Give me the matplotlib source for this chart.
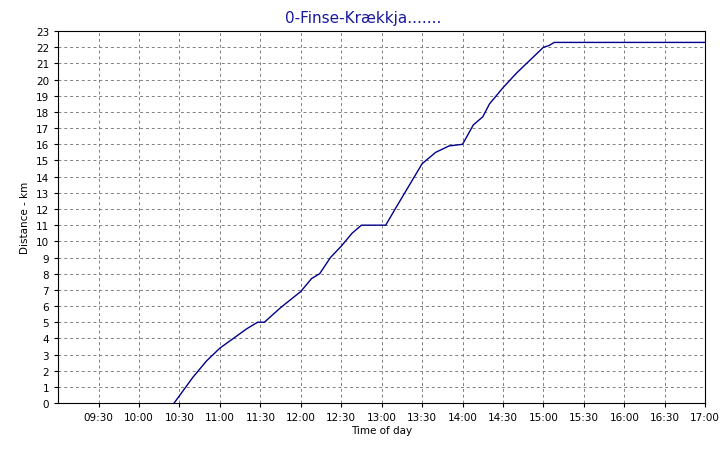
import matplotlib
matplotlib.use("Agg")
import matplotlib.pyplot as plt

times = ["10:26","10:40","10:50","11:00","11:10","11:20","11:28","11:33","11:45","12:00","12:08","12:14","12:22","12:30","12:38","12:45","13:03","13:10","13:20","13:30","13:40","13:50","14:00","14:08","14:15","14:20","14:30","14:40","14:50","15:00","15:04","15:08","17:00"]
dist = [0,1.6,2.6,3.4,4.0,4.6,5.0,5.0,5.9,6.9,7.7,8.0,9.0,9.7,10.5,11.0,11.0,12.0,13.4,14.8,15.5,15.9,16.0,17.2,17.7,18.5,19.5,20.4,21.2,22.0,22.1,22.3,22.3]
xticks = ["09:30","10:00","10:30","11:00","11:30","12:00","12:30","13:00","13:30","14:00","14:30","15:00","15:30","16:00","16:30","17:00"]

def mins(t):
    h, m = t.split(":")
    return int(h)*60+int(m)

fig = plt.figure(figsize=(7.27,4.52), dpi=100)
ax = fig.add_axes([0.080,0.106,0.890,0.823])
ax.plot([mins(t) for t in times], dist, color="#00008B", lw=1)
ax.set_xlim(mins("09:00"), mins("17:00"))
ax.set_ylim(0,23)
ax.set_xticks([mins(t) for t in xticks]); ax.set_xticklabels(xticks, fontsize=7.5)
ax.set_yticks(range(24)); ax.set_yticklabels([str(i) for i in range(24)], fontsize=7.5)
ax.grid(True, color="#808080", ls=(0,(3,3)), lw=0.7)
ax.tick_params(length=3)
ax.set_xlabel("Time of day", fontsize=7.5, labelpad=2)
ax.set_ylabel("Distance - km", fontsize=7.5, labelpad=4)
fig.suptitle("0-Finse-Krækkja.......", y=0.975, fontsize=11, color="#1a1aa0")
fig.savefig("out.png")
